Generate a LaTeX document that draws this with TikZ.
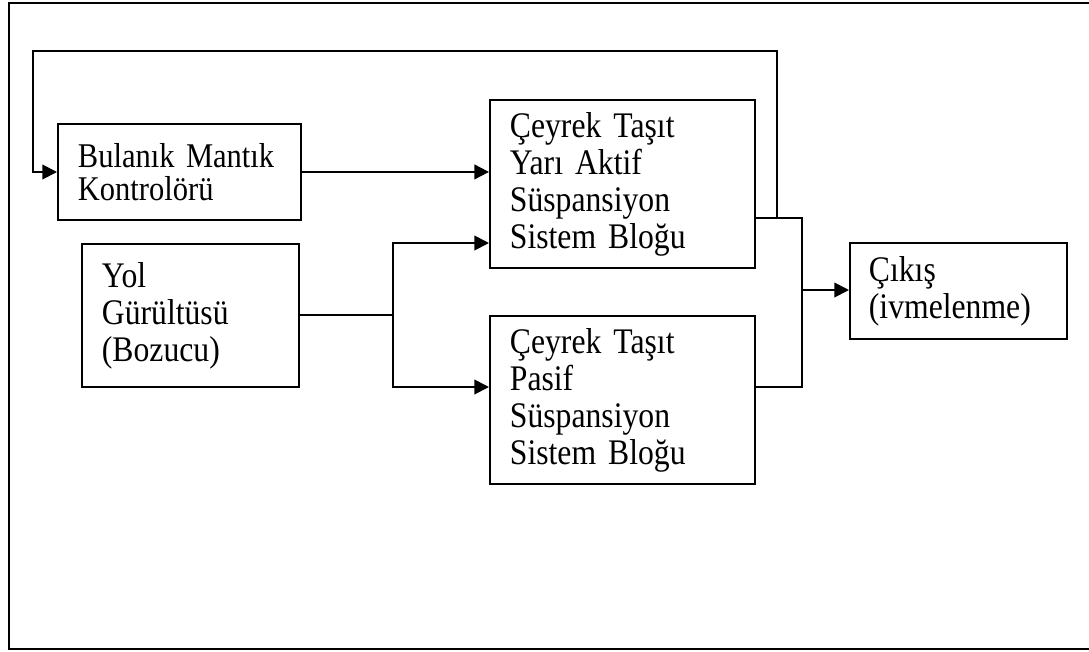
\documentclass[tikz,border=0pt]{standalone}
\usepackage{fontspec}
\setmainfont[FakeStretch = 0.88]{Liberation Serif}
\usetikzlibrary {arrows.meta}

\begin{document}
\begin{tikzpicture}[x = 0.75pt, y = -0.75pt,
	main/.style = {draw, rectangle, line width = 1.4pt, anchor = north west, align = left,
		inner xsep = 15pt, inner ysep = 0pt, font = \fontsize{27pt}{27.75pt}\selectfont},
	line/.style = {line width = 1.4pt},
	edge/.style = {line, arrows = {-Triangle[width = 11pt, length = 11pt]}}]
	\useasboundingbox (0,0) rectangle (1089,651);
	\draw[line width = 1.2pt] (9,3) rectangle (1095,649);
	% blocks
	\node[main, text width = 152.25pt, minimum height = 72pt,
		font = \fontsize{26pt}{25pt}\selectfont] (bulanik) at (57,123)
		{\mbox{Bulanık Mantık}\\Kontrolörü};
	\node[main, text width = 132.75pt, minimum height = 107.25pt] (yol) at (81,243)
		{Yol\\Gürültüsü\\(Bozucu)};
	\node[main, text width = 168.75pt, minimum height = 126pt] (aktif) at (489,99)
		{Çeyrek Taşıt\\Yarı Aktif\\Süspansiyon\\Sistem Bloğu};
	\node[main, text width = 168.75pt, minimum height = 126pt] (pasif) at (489,315)
		{Çeyrek Taşıt\\Pasif\\Süspansiyon\\Sistem Bloğu};
	\node[main, text width = 134.25pt, minimum height = 72pt, inner xsep = 14.25pt] (cikis) at (849,242)
		{Çıkış\\(ivmelenme)};
	% branch points
	\coordinate (dal) at (393,315);
	\coordinate (ust) at (393,243);
	\coordinate (alt) at (393,387);
	\coordinate (aktifcik) at (754,218);
	\coordinate (geri) at (777,218);
	\coordinate (topla) at (802,290);
	\coordinate (pasifcik) at (754,387);
	% connectors
	\draw[edge] (bulanik.east) -- (bulanik.east -| aktif.west);
	\draw[line] (yol.east |- dal) -- (dal);
	\draw[edge] (alt) -- (ust) -- (ust -| aktif.west);
	\draw[edge] (ust) -- (alt) -- (alt -| pasif.west);
	\draw[line] (aktifcik) -- (aktifcik -| topla) -- (pasifcik -| topla) -- (pasifcik);
	\draw[edge] (topla) -- (topla -| cikis.west);
	\draw[edge] (geri) -- (777,51) -- (33,51) -- (33,172) -- (bulanik.west |- 0,172);
\end{tikzpicture}
\end{document}
